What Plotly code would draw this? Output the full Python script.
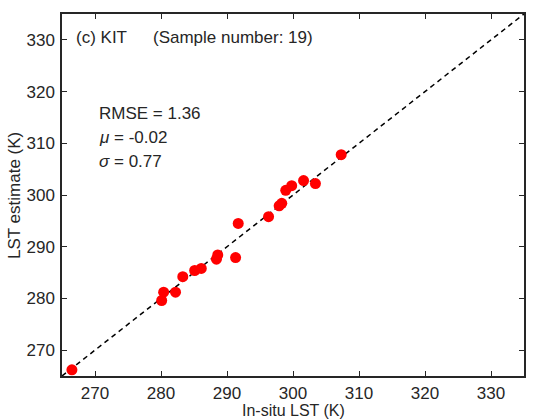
import plotly.graph_objects as go

insitu = [266.5, 280.1, 280.4, 282.2, 283.3, 285.1, 286.1, 288.4, 288.6, 291.3,
          291.7, 296.3, 297.9, 298.3, 298.9, 299.8, 301.6, 303.4, 307.3]
estimate = [266.2, 279.6, 281.2, 281.2, 284.2, 285.4, 285.8, 287.6, 288.4, 287.9,
            294.5, 295.8, 297.9, 298.4, 300.9, 301.8, 302.8, 302.2, 307.8]
one_to_one = [265, 335]
tick_vals = [270, 280, 290, 300, 310, 320, 330]

FONT = "Liberation Sans, Arial, sans-serif"
TXT = "#262626"

fig = go.Figure()
fig.add_trace(go.Scatter(x=one_to_one, y=one_to_one, mode="lines",
                         line=dict(color="black", width=1.5, dash="5px,4px"),
                         hoverinfo="skip", showlegend=False))
fig.add_trace(go.Scatter(x=insitu, y=estimate, mode="markers",
                         marker=dict(color="#ff0000", size=11, line=dict(width=0)),
                         showlegend=False))

axis_common = dict(range=[265, 335], tickvals=tick_vals, ticks="inside", ticklen=5,
                   tickwidth=1.2, tickcolor=TXT, showline=True, linecolor=TXT,
                   linewidth=1.5, mirror="ticks", showgrid=False, zeroline=False,
                   tickfont=dict(family=FONT, size=17, color=TXT))
fig.update_xaxes(ticklabelstandoff=1, **axis_common)
fig.update_yaxes(ticklabelstandoff=2, **axis_common)

TOP, BOT = 14, 376
fig.update_layout(
    width=539, height=419,
    margin=dict(l=62, r=15, t=TOP, b=419 - BOT),
    plot_bgcolor="white", paper_bgcolor="white",
    font=dict(family=FONT, size=17, color=TXT),
)

def ann(text, x, y, xanchor="left", size=17, **kw):
    fig.add_annotation(text=text, x=x, y=y, xref="paper", yref="paper",
                       xanchor=xanchor, yanchor="middle", showarrow=False,
                       font=dict(family=FONT, size=size, color=TXT), **kw)

# plot area: x 62..524 px (462 px), y TOP..BOT px
def px(xp):
    return (xp - 62) / 462
def py(yp):
    return (BOT - yp) / (BOT - TOP)

ann("(c) KIT", px(74), py(37))
ann("(Sample number: 19)", px(151), py(37))
ann("RMSE = 1.36", px(97), py(113))
ann("<i>μ</i> = -0.02", px(97), py(137))
ann("<i>σ</i> = 0.77", px(97), py(162))
ann("In-situ LST (K)", px(293), py(410), xanchor="center", size=16)
ann("LST estimate (K)", px(15), py(196), xanchor="center", textangle=-90)

fig.write_html("out.html")
